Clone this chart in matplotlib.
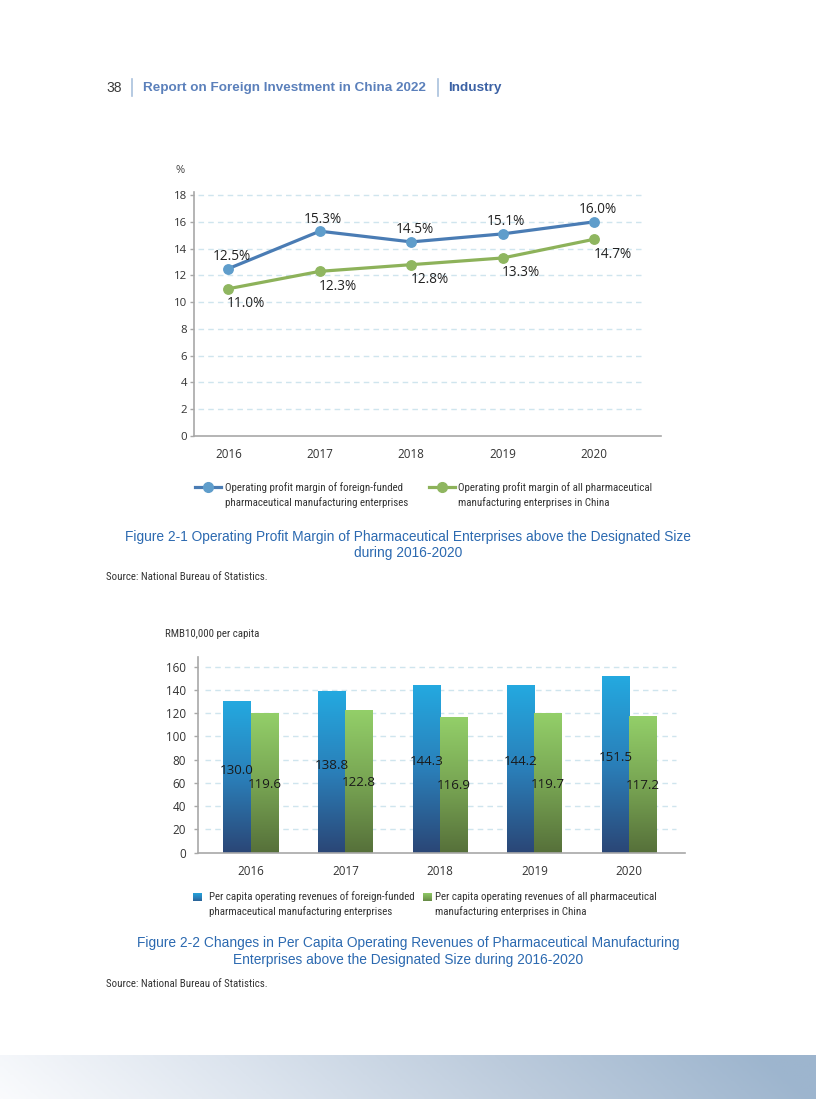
import numpy as np
import matplotlib
matplotlib.use("Agg")
import matplotlib.pyplot as plt
from matplotlib.lines import Line2D
from matplotlib.patches import Rectangle
from matplotlib import font_manager as fm
from matplotlib.colors import LinearSegmentedColormap

# ---------------- data ----------------
years = ["2016", "2017", "2018", "2019", "2020"]
margin_foreign = [12.5, 15.3, 14.5, 15.1, 16.0]
margin_all = [11.0, 12.3, 12.8, 13.3, 14.7]
margin_ticks = [0, 2, 4, 6, 8, 10, 12, 14, 16, 18]
rev_foreign = [130.0, 138.8, 144.3, 144.2, 151.5]
rev_all = [119.6, 122.8, 116.9, 119.7, 117.2]
rev_ticks = [0, 20, 40, 60, 80, 100, 120, 140, 160]

legend1 = [["Operating profit margin of foreign-funded", "pharmaceutical manufacturing enterprises"],
           ["Operating profit margin of all pharmaceutical", "manufacturing enterprises in China"]]
legend2 = [["Per capita operating revenues of foreign-funded", "pharmaceutical manufacturing enterprises"],
           ["Per capita operating revenues of all pharmaceutical", "manufacturing enterprises in China"]]
caption1 = ["Figure 2-1 Operating Profit Margin of Pharmaceutical Enterprises above the Designated Size",
            "during 2016-2020"]
caption2 = ["Figure 2-2 Changes in Per Capita Operating Revenues of Pharmaceutical Manufacturing",
            "Enterprises above the Designated Size during 2016-2020"]
source_text = "Source: National Bureau of Statistics."

# ---------------- setup ----------------
W, H = 816, 1099
fig = plt.figure(figsize=(W / 100, H / 100), dpi=100)
fig.patch.set_facecolor("white")


def fx(x):
    return x / W


def fy(y):
    return 1 - y / H


# ---- find a narrow / condensed sans font for the small grey texts ----
def _is_regular(f):
    w = f.weight
    try:
        w = int(w)
    except (TypeError, ValueError):
        w = {"normal": 400, "regular": 400, "book": 400}.get(str(w).lower(), 0)
    return w == 400 and f.style == "normal"


def find_narrow():
    ttf = fm.fontManager.ttflist
    for name in ["Liberation Sans Narrow", "Arial Narrow", "Roboto Condensed",
                 "Open Sans Condensed", "Noto Sans Condensed"]:
        for f in ttf:
            if f.name == name and _is_regular(f):
                return f.fname
    for stretch in ["condensed", "semi-condensed"]:
        for fam in ["Noto Sans", "Roboto", "Open Sans", "Liberation Sans", "DejaVu Sans"]:
            for f in ttf:
                if f.name == fam and _is_regular(f) and str(f.stretch) == stretch:
                    return f.fname
    return None


_narrow_path = find_narrow()


def nprops(size):
    if _narrow_path:
        return fm.FontProperties(fname=_narrow_path, size=size)
    return fm.FontProperties(family="Liberation Sans", size=size)


# size the narrow font so its width matches the reference line width (~176 px)
_renderer = fig.canvas.get_renderer()
_probe = fig.text(0, 0, legend1[0][0], fontproperties=nprops(10))
_w = _probe.get_window_extent(_renderer).width
_probe.remove()
NSIZE = min(9.2, 10 * 176 / _w)

ARIAL = "Liberation Sans"
DATAF = "Open Sans"
CAP_COLOR = "#2b69b0"
GRID_COLOR = "#cfe5ee"
AXIS_COLOR = "#a8a8a8"
TXT_GREY = "#333333"

# ---------------- header ----------------
fig.text(fx(106), fy(87.5), "38", fontsize=10, family=ARIAL, color="#3a3a3a", va="center", ha="left")
fig.add_artist(Line2D([fx(131.7)] * 2, [fy(79), fy(96)], color="#a9c1dd", lw=1.2))
fig.text(fx(143.3), fy(87.5), "Report on Foreign Investment in China 2022", fontsize=9.7,
         family=ARIAL, weight="bold", color="#5b80bb", va="center", ha="left")
fig.add_artist(Line2D([fx(438.3)] * 2, [fy(79), fy(96)], color="#a9c1dd", lw=1.2))
fig.text(fx(447.7), fy(87.5), "Industry", fontsize=9.7, family=ARIAL, weight="bold",
         color="#3c62a5", va="center", ha="left")

# ---------------- chart 1: lines ----------------
x = np.arange(len(years))
ax1 = fig.add_axes([fx(194), fy(436), (661 - 194) / W, (436 - 191.7) / H])
ax1.set_xlim(-0.375, 4.729)
ax1.set_ylim(0, 18.25)
for t in margin_ticks[1:]:
    ax1.axhline(t, xmin=0.0086, xmax=0.9576, color=GRID_COLOR, lw=1.0, ls=(0, (4, 3)), zorder=0)

c_blue_line, c_blue_mk = "#4a7cb4", "#5f9dcb"
c_green_line, c_green_mk = "#8db25a", "#8fb660"
ax1.plot(x, margin_foreign, color=c_blue_line, lw=2.3, marker="o", ms=6.8,
         mfc=c_blue_mk, mec=c_blue_mk, zorder=3, solid_capstyle="round")
ax1.plot(x, margin_all, color=c_green_line, lw=2.3, marker="o", ms=6.8,
         mfc=c_green_mk, mec=c_green_mk, zorder=3, solid_capstyle="round")

for xi, v in zip(x, margin_foreign):
    ax1.annotate(f"{v:.1f}%", (xi, v), xytext=(3, 12), textcoords="offset pixels",
                 ha="center", va="center", fontsize=9.8, family=DATAF, color="#222222")
for xi, v in zip(x, margin_all):
    ax1.annotate(f"{v:.1f}%", (xi, v), xytext=(18, -15), textcoords="offset pixels",
                 ha="center", va="center", fontsize=9.8, family=DATAF, color="#222222")

for s in ["top", "right"]:
    ax1.spines[s].set_visible(False)
for s in ["left", "bottom"]:
    ax1.spines[s].set_color(AXIS_COLOR)
    ax1.spines[s].set_linewidth(1.2)
ax1.set_yticks(margin_ticks)
ax1.set_yticklabels([str(t) for t in margin_ticks], fontsize=8.2, family=DATAF, color=TXT_GREY)
ax1.set_xticks(x)
ax1.set_xticklabels(years, fontsize=8.4, family=DATAF, color=TXT_GREY)
ax1.tick_params(axis="y", direction="out", length=3, width=1, color=AXIS_COLOR, pad=2)
ax1.tick_params(axis="x", length=0, pad=9)
fig.text(fx(180), fy(170.7), "%", fontsize=8, family=DATAF, color="#444444", ha="center", va="center")

# legend 1
for (x0, x1, xt), col_l, col_m, lines in [((195, 220.7, 225), c_blue_line, c_blue_mk, legend1[0]),
                                            ((429.3, 455, 458.3), c_green_line, c_green_mk, legend1[1])]:
    fig.add_artist(Line2D([fx(x0), fx(x1)], [fy(487.3)] * 2, color=col_l, lw=2.3))
    fig.add_artist(Line2D([fx((x0 + x1) / 2)], [fy(487.3)], marker="o", ms=7, color=col_m))
    fig.text(fx(xt), fy(487.3), lines[0], fontproperties=nprops(NSIZE), color=TXT_GREY, va="center")
    fig.text(fx(xt), fy(502.3), lines[1], fontproperties=nprops(NSIZE), color=TXT_GREY, va="center")

fig.text(fx(408), fy(537), caption1[0], fontsize=9.9, family=ARIAL, color=CAP_COLOR, ha="center", va="center")
fig.text(fx(408), fy(553), caption1[1], fontsize=9.9, family=ARIAL, color=CAP_COLOR, ha="center", va="center")
fig.text(fx(106), fy(576.7), source_text, fontproperties=nprops(NSIZE), color=TXT_GREY, va="center")

# ---------------- chart 2: bars ----------------
ax2 = fig.add_axes([fx(198.3), fy(852.7), (684.6 - 198.3) / W, (852.7 - 657) / H])
for t in rev_ticks[1:]:
    ax2.axhline(t, xmin=0.0144, xmax=0.9817, color=GRID_COLOR, lw=1.0, ls=(0, (4, 3)), zorder=0)

bw = 0.289
cmap_blue = LinearSegmentedColormap.from_list("b", ["#2b4676", "#2a7fb9", "#24a9e0"])
cmap_green = LinearSegmentedColormap.from_list("g", ["#56703a", "#78a553", "#93cf69"])
grad = np.linspace(0, 1, 256).reshape(-1, 1)

bars_f = ax2.bar(x - bw / 2, rev_foreign, bw, color="none", edgecolor="none", zorder=2)
bars_a = ax2.bar(x + bw / 2, rev_all, bw, color="none", edgecolor="none", zorder=2)
for bars, cm in [(bars_f, cmap_blue), (bars_a, cmap_green)]:
    for b in bars:
        bx, bwid, bh = b.get_x(), b.get_width(), b.get_height()
        ax2.imshow(grad, extent=[bx, bx + bwid, 0, bh], origin="lower", aspect="auto",
                   cmap=cm, zorder=2, interpolation="bilinear")

for b, v in zip(bars_f, rev_foreign):
    ax2.annotate(f"{v:.1f}", (b.get_x() + b.get_width() / 2, v / 2), xytext=(0, 7),
                 textcoords="offset pixels", ha="center", va="center", fontsize=9.6,
                 family=DATAF, color="#1a1a1a", zorder=4)
for b, v in zip(bars_a, rev_all):
    ax2.annotate(f"{v:.1f}", (b.get_x() + b.get_width() / 2, v / 2), xytext=(0, -1),
                 textcoords="offset pixels", ha="center", va="center", fontsize=9.6,
                 family=DATAF, color="#1a1a1a", zorder=4)

ax2.set_xlim(-0.554, 4.587)
ax2.set_ylim(0, 168.3)
for s in ["top", "right"]:
    ax2.spines[s].set_visible(False)
for s in ["left", "bottom"]:
    ax2.spines[s].set_color(AXIS_COLOR)
    ax2.spines[s].set_linewidth(1.2)
ax2.set_yticks(rev_ticks)
ax2.set_yticklabels([str(t) for t in rev_ticks], fontsize=8.4, family=DATAF, color=TXT_GREY)
ax2.set_xticks(x)
ax2.set_xticklabels(years, fontsize=8.4, family=DATAF, color=TXT_GREY)
ax2.tick_params(axis="y", direction="out", length=3, width=1, color=AXIS_COLOR, pad=6)
ax2.tick_params(axis="x", length=0, pad=9)
fig.text(fx(165), fy(634), "RMB10,000 per capita", fontproperties=nprops(NSIZE),
         color=TXT_GREY, va="center")

# legend 2
for (sx, xt), cm, lines in [((193.3, 209.3), cmap_blue, legend2[0]), ((422.7, 435), cmap_green, legend2[1])]:
    lax = fig.add_axes([fx(sx), fy(901), 8.4 / W, 8.4 / H])
    lax.imshow(grad, origin="lower", aspect="auto", cmap=cm, extent=[0, 1, 0, 1],
               interpolation="bilinear", vmin=-0.3, vmax=1.0)
    lax.set_axis_off()
    fig.text(fx(xt), fy(896.7), lines[0], fontproperties=nprops(NSIZE), color=TXT_GREY, va="center")
    fig.text(fx(xt), fy(911.7), lines[1], fontproperties=nprops(NSIZE), color=TXT_GREY, va="center")

fig.text(fx(408), fy(943.5), caption2[0], fontsize=9.9, family=ARIAL, color=CAP_COLOR, ha="center", va="center")
fig.text(fx(408), fy(960), caption2[1], fontsize=9.9, family=ARIAL, color=CAP_COLOR, ha="center", va="center")
fig.text(fx(106), fy(984.3), source_text, fontproperties=nprops(NSIZE), color=TXT_GREY, va="center")

# ---------------- footer gradient ----------------
axf = fig.add_axes([0, 0, 1, (H - 1055) / H])
gx = np.linspace(0, 1, 400)
gy = np.linspace(0, 1, 20)
GX, GY = np.meshgrid(gx, gy)
T = np.clip(GX + 0.06 * GY, 0, 1)
cmap_f = LinearSegmentedColormap.from_list("f", ["#fafbfd", "#dce4ee", "#bccbdc", "#9db5ce"])
axf.imshow(T, extent=[0, 1, 0, 1], origin="lower", aspect="auto", cmap=cmap_f)
axf.set_axis_off()

fig.savefig("out.png", dpi=100, facecolor="white")
